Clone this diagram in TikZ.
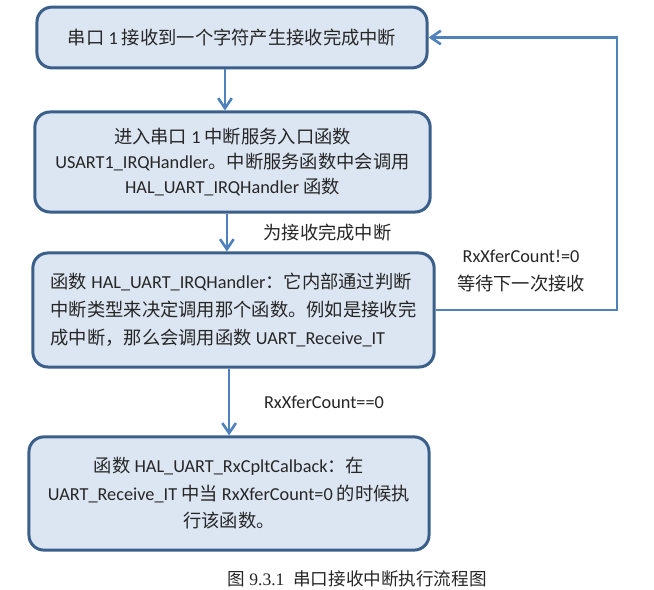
\documentclass[tikz,border=0pt]{standalone}
\usepackage{fontspec}
\setmainfont{Carlito}
\newfontfamily\cjk{Noto Sans CJK SC}
\newfontfamily\capfont{Liberation Serif}
\usetikzlibrary{arrows.meta, positioning}
\newcommand{\zh}[1]{{\cjk #1}}
\definecolor{boxline}{HTML}{3A5F8B}
\definecolor{boxfill}{HTML}{DCE6F2}
\definecolor{arrowblue}{HTML}{4F81BD}

\begin{document}
\begin{tikzpicture}[x=0.025cm, y=-0.025cm,
    box/.style={draw=boxline, fill=boxfill, line width=0.075cm, rounded corners=0.375cm,
        align=center, text=black!85, font=\fontsize{13}{19}\selectfont},
    signal/.style={-{Straight Barb[length=0.25cm, width=0.34cm]}, draw=arrowblue, line width=0.065cm},
    label/.style={align=center, inner sep=0pt, text=black!85, font=\fontsize{13}{19.5}\selectfont}
]
\useasboundingbox (0,0) rectangle (654,590);

% Boxes of the flow, top to bottom
\node[box, minimum width=9.75cm, minimum height=1.52cm] (recv) at (232,37.5)
    {\zh{串口} 1 \zh{接收到一个字符产生接收完成中断}};

\node[box, minimum width=9.88cm, minimum height=2.5cm, font=\fontsize{13}{18}\selectfont] (entry) at (232.5,162)
    {\zh{进入串口} 1 \zh{中断服务入口函数}\\
     USART1\_IRQHandler\zh{。中断服务函数中会调用}\\
     HAL\_UART\_IRQHandler \zh{函数}};

\node[box, align=left, minimum width=10.03cm, minimum height=2.85cm, font=\fontsize{13}{20}\selectfont] (handler) at (233.5,310)
    {\zh{函数} HAL\_UART\_IRQHandler\zh{：它内部通过判断}\\
     \zh{中断类型来决定调用那个函数。例如是接收完}\\
     \zh{成中断，那么会调用函数} UART\_Receive\_IT};

\node[box, minimum width=10cm, minimum height=2.83cm, font=\fontsize{13}{19.5}\selectfont] (callback) at (229,493.5)
    {\zh{函数} HAL\_UART\_RxCpltCalback\zh{：在}\\
     UART\_Receive\_IT \zh{中当} RxXferCount=0 \zh{的时候执}\\
     \zh{行该函数。}};

% Downward arrows
\draw[signal] ([xshift=-0.175cm]recv.south) -- ([xshift=-0.175cm]recv.south |- entry.north);
\draw[signal] ([xshift=-0.14cm]entry.south) -- ([xshift=-0.14cm]entry.south |- handler.north);
\draw[signal] ([xshift=-0.11cm]handler.south) -- ([xshift=-0.11cm]handler.south |- callback.north);

\node[label] (done) at (327.5,233) {\zh{为接收完成中断}};
\node[label] (zero) at (324,402) {RxXferCount==0};

% Loop back while bytes remain
\coordinate (loop) at (617,37.5);
\draw[signal] (handler.east) -| (loop) -- (recv.east);
\node[label] (wait) at (521,271) {RxXferCount!=0\\ \zh{等待下一次接收}};

% Caption
\node[inner sep=0pt, font=\fontsize{12.5}{15}\capfont, text=black!85] (caption) at (357,579)
    {\zh{图} 9.3.1\ \ \zh{串口接收中断执行流程图}};
\end{tikzpicture}
\end{document}
